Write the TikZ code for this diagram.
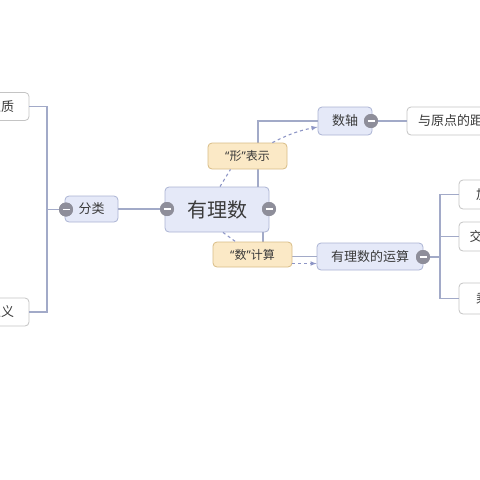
\documentclass[tikz,border=0pt]{standalone}
\usepackage{fontspec}
\setmainfont{Noto Sans CJK SC}
\newfontfamily\quotefont{Noto Sans}
\usetikzlibrary{arrows.meta}
\definecolor{topicfill}{HTML}{E5E9F8}
\definecolor{topicline}{HTML}{AAB3D3}
\definecolor{labelfill}{HTML}{FBE9C6}
\definecolor{labelline}{HTML}{D8BC86}
\definecolor{leafline}{HTML}{C4C4C4}
\definecolor{branchcol}{HTML}{A2AAC8}
\definecolor{relcol}{HTML}{8E96C6}
\definecolor{minuscol}{HTML}{8E8E9A}
\definecolor{textcol}{HTML}{3A3A3A}
\newcommand{\openq}{{\quotefont “}}
\newcommand{\closeq}{{\quotefont ”}}

\begin{document}
\begin{tikzpicture}[x=1pt,y=-1pt,
	topic/.style={draw=topicline, fill=topicfill, rounded corners=4pt, line width=.8pt, text=textcol, minimum height=27pt, font=\fontsize{13}{15}\selectfont},
	leaf/.style={draw=leafline, fill=white, rounded corners=4pt, line width=.8pt, text=textcol, minimum height=28pt, font=\fontsize{13}{15}\selectfont},
	relabel/.style={draw=labelline, fill=labelfill, rounded corners=4pt, line width=.8pt, text=textcol, minimum width=79pt, minimum height=26pt, font=\fontsize{12}{14}\selectfont},
	branch/.style={draw=branchcol, line width=1.8pt},
	rel/.style={draw=relcol, line width=1.1pt, dashed},
	minus/.style={circle, fill=minuscol, minimum size=14pt, inner sep=0pt,
		path picture={\draw[white, line width=1.6pt] ([xshift=-3.5pt]path picture bounding box.center) -- ([xshift=3.5pt]path picture bounding box.center);}}]
	\useasboundingbox (0,0) rectangle (480,480);
	\clip (0,0) rectangle (480,480);
	\node[topic, minimum width=104pt, minimum height=45pt, font=\fontsize{20}{24}\selectfont] (root) at (217,209.5) {有理数};
	\node[topic, minimum width=53pt, minimum height=26pt] (fenlei) at (91.5,209) {分类};
	\node[topic, minimum width=54pt, minimum height=28pt] (shuzhou) at (345,121) {数轴};
	\node[topic, minimum width=106pt] (yunsuan) at (370,256.5) {有理数的运算};
	\node[leaf, minimum width=56pt] (xingzhi) at (1,106.5) {性质};
	\node[leaf, minimum width=56pt] (dingyi) at (1,312) {定义};
	\node[leaf, minimum width=100pt] (juli) at (457,121) {与原点的距离};
	\node[leaf, minimum width=60pt, minimum height=29pt] (jia) at (489,194.5) {加法};
	\node[leaf, minimum width=60pt, minimum height=29pt] (jiao) at (489,236.5) {交换律};
	\node[leaf, minimum width=60pt, minimum height=31pt] (cheng) at (489,298.5) {乘方};
	\node[minus] (rootL) at (167,209) {};
	\node[minus] (rootR) at (269,209) {};
	\node[minus] (fenleiL) at (66,209.5) {};
	\node[minus] (shuzhouR) at (371,121) {};
	\node[minus] (yunsuanR) at (423,257) {};
	\coordinate (lbus) at (47,209.5);
	\coordinate (rbus) at (440,257);
	\coordinate (rtop) at (258,187);
	\coordinate (rbot) at (263,232);
	\draw[branch] (rootL) -- (fenlei.east);
	\draw[branch] (fenleiL) -- (lbus);
	\draw[branch] (xingzhi.east) -| (lbus) |- (dingyi.east);
	\draw[branch] (rtop) |- (shuzhou.west);
	\draw[branch] (rbot) |- (yunsuan.west);
	\draw[branch] (shuzhouR) -- (juli.west);
	\draw[branch] (yunsuanR) -- (rbus);
	\draw[branch] (jia.west) -| (rbus) |- (cheng.west);
	\draw[branch] (jiao.west) -| (rbus);
	\node[minus] at (rootL) {};
	\node[minus] at (rootR) {};
	\node[minus] at (fenleiL) {};
	\node[minus] at (shuzhouR) {};
	\node[minus] at (yunsuanR) {};
	\node[relabel] (xingL) at (247.5,156) {\openq 形\closeq 表示};
	\node[relabel, minimum height=25pt] (shuL) at (252.5,254.5) {\openq 数\closeq 计算};
	\draw[rel] ([xshift=3pt]root.north) -- ([xshift=-17pt]xingL.south);
	\draw[rel, >=latex, ->] ([xshift=-15pt]xingL.north east) to[bend left=8] ([yshift=-6pt]shuzhou.west);
	\draw[rel] ([xshift=6pt]root.south) -- ([xshift=-17pt]shuL.north);
	\draw[rel, >=latex, ->] ([yshift=-9pt]shuL.east) -- ([yshift=-7pt]yunsuan.west);
\end{tikzpicture}
\end{document}
